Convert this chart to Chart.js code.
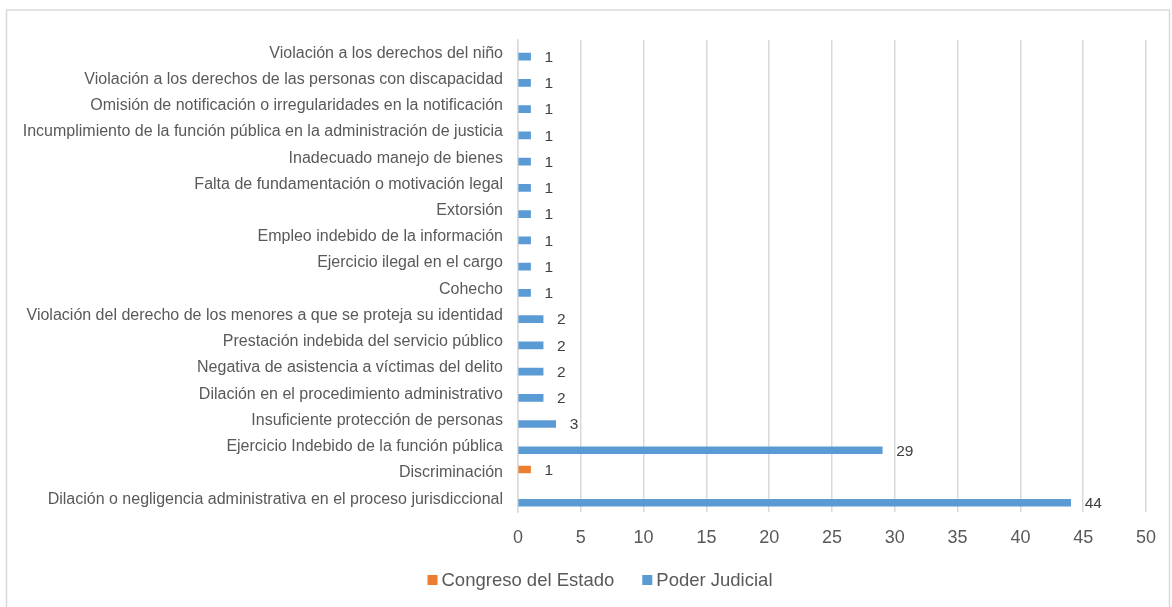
<!DOCTYPE html>
<html lang="es">

<head>
    <meta charset="UTF-8">
    <title>Quejas por autoridad</title>
    <script src="https://cdn.jsdelivr.net/npm/chart.js"></script>
    <style>
        body { margin: 0; background: #ffffff; }
        #contenedor { width: 1172px; height: 607px; }
    </style>
</head>

<body>
    <div id="contenedor">
        <canvas id="myChart" width="1172" height="607"></canvas>
    </div>

<script>
    // Categorias (de arriba hacia abajo)
    const categorias = [
        'Violación a los derechos del niño',
        'Violación a los derechos de las personas con discapacidad',
        'Omisión de notificación o irregularidades en la notificación',
        'Incumplimiento de la función pública en la administración de justicia',
        'Inadecuado manejo de bienes',
        'Falta de fundamentación o motivación legal',
        'Extorsión',
        'Empleo indebido de la información',
        'Ejercicio ilegal en el cargo',
        'Cohecho',
        'Violación del derecho de los menores a que se proteja su identidad',
        'Prestación indebida del servicio público',
        'Negativa de asistencia a víctimas del delito',
        'Dilación en el procedimiento administrativo',
        'Insuficiente protección de personas',
        'Ejercicio Indebido de la función pública',
        'Discriminación',
        'Dilación o negligencia administrativa en el proceso jurisdiccional'
    ];

    // Series
    const congresoDelEstado = [null, null, null, null, null, null, null, null, null, null, null, null, null, null, null, null, 1, null];
    const poderJudicial = [1, 1, 1, 1, 1, 1, 1, 1, 1, 1, 2, 2, 2, 2, 3, 29, null, 44];

    // Eje horizontal
    const ejeMinimo = 0;
    const ejeMaximo = 50;
    const ejePaso = 5;

    const colorTexto = '#595959';

    // marco gris alrededor del grafico
    const marco = {
        id: 'marco',
        beforeDraw(chart) {
            const ctx = chart.ctx;
            ctx.save();
            ctx.fillStyle = '#ffffff';
            ctx.fillRect(0, 0, chart.width, chart.height);
            ctx.strokeStyle = '#d9d9d9';
            ctx.lineWidth = 1.5;
            ctx.strokeRect(6.5, 10, 1163, 600);
            ctx.restore();
        }
    };

    // numeros al final de cada barra
    const etiquetas = {
        id: 'etiquetas',
        afterDatasetsDraw(chart) {
            const ctx = chart.ctx;
            ctx.save();
            ctx.font = '15.5px "Liberation Sans", Arial, sans-serif';
            ctx.fillStyle = '#404040';
            ctx.textAlign = 'left';
            ctx.textBaseline = 'middle';
            chart.data.datasets.forEach(function (ds, i) {
                chart.getDatasetMeta(i).data.forEach(function (barra, j) {
                    const valor = ds.data[j];
                    if (valor == null) return;
                    ctx.fillText(valor, barra.x + 14, barra.y + 1);
                });
            });
            ctx.restore();
        }
    };

    // leyenda dibujada abajo, centrada como en el original
    const leyenda = {
        id: 'leyenda',
        afterDraw(chart) {
            const ctx = chart.ctx;
            ctx.save();
            ctx.font = '18.5px "Liberation Sans", Arial, sans-serif';
            ctx.textBaseline = 'middle';
            ctx.textAlign = 'left';
            const caja = 10, hueco = 4, separacion = 28, y = 580;
            const items = chart.data.datasets.map(function (ds) {
                return { texto: ds.label, color: ds.backgroundColor, ancho: ctx.measureText(ds.label).width };
            });
            let total = 0;
            items.forEach(function (it, i) {
                total += caja + hueco + it.ancho + (i > 0 ? separacion : 0);
            });
            let x = 600 - total / 2;
            items.forEach(function (it) {
                ctx.fillStyle = it.color;
                ctx.fillRect(x, y - caja / 2, caja, caja);
                ctx.fillStyle = colorTexto;
                ctx.fillText(it.texto, x + caja + hueco, y + 1);
                x += caja + hueco + it.ancho + separacion;
            });
            ctx.restore();
        }
    };

    const dados = {
        labels: categorias,
        datasets: [{
            label: 'Congreso del Estado',
            data: congresoDelEstado,
            backgroundColor: '#ED7D31',
            barThickness: 7
        }, {
            label: 'Poder Judicial',
            data: poderJudicial,
            backgroundColor: '#5B9BD5',
            barThickness: 7
        }]
    };

    const config = {
        type: 'bar',
        data: dados,
        options: {
            indexAxis: 'y',
            responsive: false,
            animation: false,
            devicePixelRatio: 1,
            layout: {
                padding: { top: 40, right: 26, bottom: 43, left: 0 }
            },
            plugins: {
                legend: { display: false },
                tooltip: { enabled: false }
            },
            scales: {
                x: {
                    min: ejeMinimo,
                    max: ejeMaximo,
                    ticks: {
                        stepSize: ejePaso,
                        padding: 15,
                        color: colorTexto,
                        font: { family: '"Liberation Sans", Arial, sans-serif', size: 18 }
                    },
                    grid: { color: '#d9d9d9', lineWidth: 1.5, drawTicks: false },
                    border: { display: false }
                },
                y: {
                    afterFit: function (escala) { escala.width = 518; },
                    ticks: {
                        padding: 15,
                        color: colorTexto,
                        font: { family: '"Liberation Sans", Arial, sans-serif', size: 16 }
                    },
                    grid: { display: false, drawTicks: false },
                    border: { color: '#d9d9d9', width: 1.5 }
                }
            }
        },
        plugins: [marco, etiquetas, leyenda]
    };

    let myChart = new Chart(document.getElementById('myChart'), config);
</script>
</body>

</html>
